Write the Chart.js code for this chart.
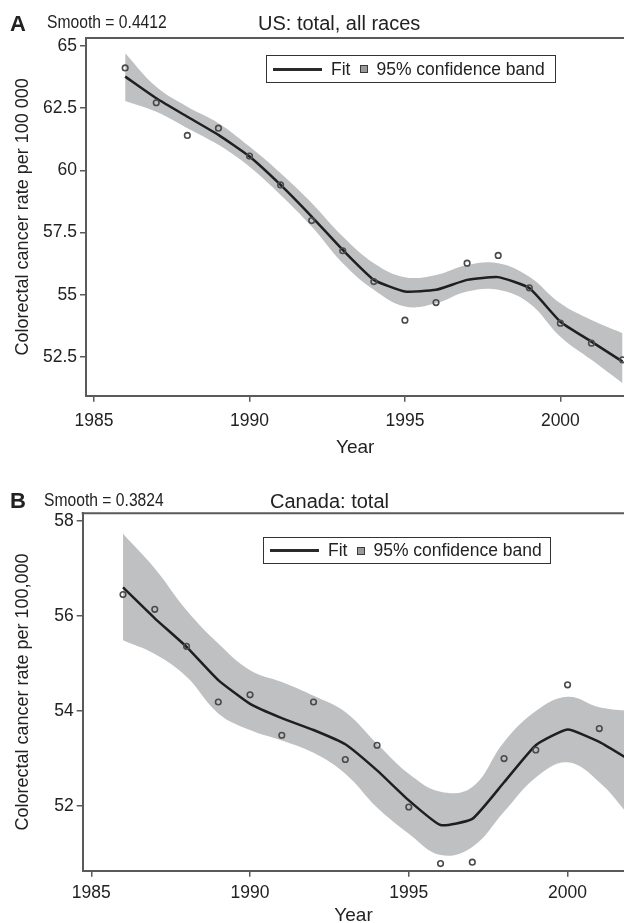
<!DOCTYPE html>
<html><head><meta charset="utf-8">
<script src="https://cdn.jsdelivr.net/npm/chart.js@4.4.0/dist/chart.umd.min.js"></script>
<style>
html,body{margin:0;padding:0;background:#fff;width:624px;height:923px;overflow:hidden;position:relative;font-family:"Liberation Sans",Arial,sans-serif;color:#222}
canvas{position:absolute;left:0}
.t{position:absolute;line-height:1;white-space:nowrap;color:#222}
.lab{font-weight:bold;font-size:22px}
.sm{font-size:18px;transform:scaleX(0.87);transform-origin:0 0}
.ti{font-size:20px}
.legend{position:absolute;border:1px solid #333;box-sizing:border-box;display:flex;align-items:center;font-size:17.5px;white-space:nowrap}
.legend .ln{display:inline-block;width:49px;height:3px;background:#2a2a2a;margin-left:6px}
.legend .f{margin-left:9px}
.legend .sq{display:inline-block;width:6px;height:6px;background:#9a9a9a;border:1.5px solid #3a3a3a;margin-left:10px}
.legend .b{margin-left:8px}
</style></head>
<body>
<canvas id="cA" width="630" height="460" style="top:0;width:630px;height:460px"></canvas>
<canvas id="cB" width="630" height="464" style="top:463px;width:630px;height:464px"></canvas>

<div class="t lab" style="left:10px;top:13px">A</div>
<div class="t sm" style="left:47px;top:13px">Smooth = 0.4412</div>
<div class="t ti" style="left:258px;top:12.5px">US: total, all races</div>
<div class="legend" style="left:266px;top:55px;width:290px;height:28px"><span class="ln"></span><span class="f">Fit</span><span class="sq"></span><span class="b">95% confidence band</span></div>

<div class="t lab" style="left:10px;top:490px">B</div>
<div class="t sm" style="left:44px;top:491px">Smooth = 0.3824</div>
<div class="t ti" style="left:270px;top:491px">Canada: total</div>
<div class="legend" style="left:263px;top:537px;width:288px;height:27px"><span class="ln"></span><span class="f">Fit</span><span class="sq"></span><span class="b">95% confidence band</span></div>

<script>
const years = [1986,1987,1988,1989,1990,1991,1992,1993,1994,1995,1996,1997,1998,1999,2000,2001,2002];
const xTicks = [1985,1990,1995,2000];

const usTicks = [52.5,55,57.5,60,62.5,65];
const usObserved = [64.11,62.71,61.40,61.69,60.57,59.41,57.98,56.77,55.53,53.98,54.69,56.27,56.58,55.28,53.86,53.06,52.39];
const usFit      = [63.76,62.89,62.15,61.42,60.55,59.41,58.14,56.80,55.60,55.13,55.20,55.60,55.71,55.27,53.92,53.12,52.32];
const usUpper    = [64.70,63.35,62.55,61.89,60.95,59.88,58.69,57.34,56.27,55.71,55.80,56.20,56.27,55.73,54.66,53.99,53.46];
const usLower    = [62.78,62.35,61.69,61.02,60.14,59.01,57.74,56.27,55.20,54.53,54.66,55.13,55.20,54.66,53.32,52.39,51.45];

const caTicks = [52,54,56,58];
const caObserved = [56.45,56.14,55.36,54.19,54.34,53.49,54.19,52.98,53.28,51.98,50.79,50.82,53.00,53.18,54.55,53.63];
const caFit      = [56.60,55.95,55.35,54.65,54.15,53.85,53.60,53.30,52.75,52.12,51.60,51.73,52.50,53.28,53.61,53.35,52.95];
const caUpper    = [57.73,57.00,56.12,55.42,54.86,54.61,54.32,53.98,53.31,52.68,52.30,52.40,53.35,54.00,54.30,54.08,54.00];
const caLower    = [55.49,55.20,54.72,53.95,53.60,53.38,53.12,52.68,51.97,51.42,50.97,51.14,51.88,52.60,52.92,52.50,51.75];

const FAM = '"Liberation Sans", Arial, sans-serif';
Chart.defaults.font.family = FAM;
Chart.defaults.color = '#222';

function pts(vals){ return vals.map((v,i)=>({x:years[i], y:v})); }

const frameTop = {
  id:'frameTop',
  afterDraw(chart){
    const {ctx, chartArea:a} = chart;
    ctx.save();
    ctx.strokeStyle = '#5a5a5a';
    ctx.lineWidth = 2;
    ctx.beginPath();
    ctx.moveTo(a.left - 1, a.top);
    ctx.lineTo(a.right + 6, a.top);
    ctx.stroke();
    ctx.restore();
  }
};

function build(id, o){
  const ctx = document.getElementById(id);
  return new Chart(ctx, {
    type:'line',
    data:{datasets:[
      {label:'lower', data:pts(o.lower), borderWidth:0, pointRadius:0, fill:false, tension:0.4, order:4, borderColor:'rgba(0,0,0,0)'},
      {label:'95% confidence band', data:pts(o.upper), borderWidth:0, pointRadius:0, fill:'-1', backgroundColor:'#bfc0c2', tension:0.4, order:3, borderColor:'rgba(0,0,0,0)'},
      {label:'Fit', data:pts(o.fit), borderColor:'#1f1f1f', borderWidth:2.5, pointRadius:0, fill:false, tension:0.15, order:2},
      {label:'Observed', data:pts(o.obs), showLine:false, pointRadius:2.8, pointBorderWidth:1.6, pointBorderColor:'#4a4a4a', pointBackgroundColor:'rgba(0,0,0,0)', order:1}
    ]},
    options:{
      responsive:false, animation:false,
      layout:{padding:{top:o.top, left:0, right:0, bottom:0}},
      plugins:{legend:{display:false}, tooltip:{enabled:false}},
      scales:{
        x:{type:'linear', min:o.xmin, max:o.xmax,
          afterBuildTicks:s=>{s.ticks = xTicks.map(v=>({value:v}));},
          afterFit:s=>{s.height = o.xh;},
          grid:{drawOnChartArea:false, drawTicks:true, tickLength:6, color:'#5a5a5a', lineWidth:1.5},
          border:{display:true, color:'#5a5a5a', width:2},
          ticks:{font:{size:17.5}, color:'#222', padding:o.xpad, maxRotation:0, autoSkip:false, callback:v=>String(v)},
          title:{display:true, text:'Year', font:{size:19}, color:'#222', padding:{top:0,bottom:o.ypb}}
        },
        y:{type:'linear', min:o.ymin, max:o.ymax,
          afterBuildTicks:s=>{s.ticks = o.ticks.map(v=>({value:v}));},
          afterFit:s=>{s.width = o.yw;},
          grid:{drawOnChartArea:false, drawTicks:true, tickLength:6, color:'#5a5a5a', lineWidth:1.5},
          border:{display:true, color:'#5a5a5a', width:2},
          ticks:{font:{size:17.5}, color:'#222', padding:3, callback:v=>String(v)},
          title:{display:true, text:o.ytitle, font:{size:18}, color:'#222', padding:{top:12,bottom:0}}
        }
      }
    },
    plugins:[frameTop]
  });
}

build('cA', {obs:usObserved, fit:usFit, upper:usUpper, lower:usLower, ticks:usTicks,
  ymin:50.95, ymax:65.31, xmin:1984.74, xmax:2002.06, top:38, yw:86, xh:64.3, xpad:9, ypb:1,
  ytitle:'Colorectal cancer rate per 100 000'});
build('cB', {obs:caObserved, fit:caFit, upper:caUpper, lower:caLower, ticks:caTicks,
  ymin:50.64, ymax:58.16, xmin:1984.73, xmax:2001.79, top:50.3, yw:82.7, xh:56.3, xpad:5.5, ypb:0,
  ytitle:'Colorectal cancer rate per 100,000'});
</script>
</body></html>
